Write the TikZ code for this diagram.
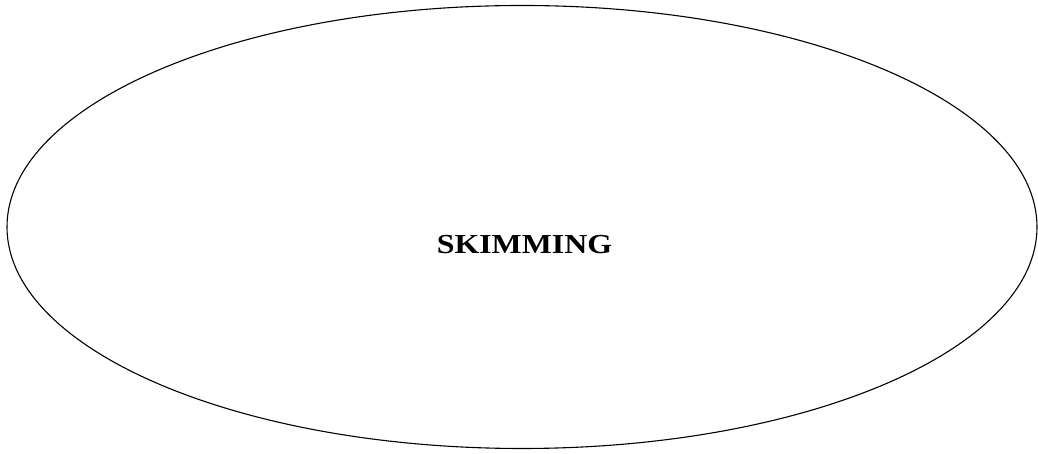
\documentclass[tikz,border=0pt]{standalone}
\usepackage{fontspec}
\setmainfont{Liberation Serif}
\usetikzlibrary{shapes.geometric}
\begin{document}
\begin{tikzpicture}[x=1pt,y=1pt,
  oval/.style={draw=black,line width=1.1pt,ellipse,minimum width=1030pt,minimum height=443pt,inner sep=0pt,outer sep=0pt},
  lbl/.style={font=\bfseries\fontsize{27.5}{30}\selectfont,inner sep=0pt,anchor=base}]
\useasboundingbox (0,0) rectangle (1038,454);
\node[oval] (o) at (522,227) {};
\node[lbl] (t) at (524.5,200) {\scalebox{1.16}[1]{SKIMMING}};
\end{tikzpicture}
\end{document}
